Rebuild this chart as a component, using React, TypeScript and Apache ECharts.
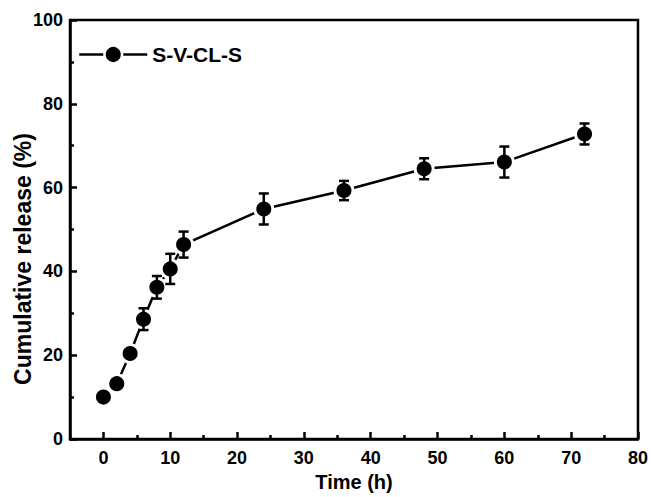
import React, { useEffect, useRef } from "react";
import * as echarts from "echarts";

const seriesName = "S-V-CL-S";
const timeH = [0, 2, 4, 6, 8, 10, 12, 24, 36, 48, 60, 72];
const release = [10.0, 13.2, 20.4, 28.6, 36.2, 40.6, 46.4, 54.9, 59.3, 64.5, 66.1, 72.8];
const errorBar = [0.5, 1.0, 1.0, 2.6, 2.7, 3.6, 3.1, 3.7, 2.3, 2.5, 3.7, 2.5];
const xMajorTicks = [0, 10, 20, 30, 40, 50, 60, 70, 80];
const xMinorTicks = [5, 15, 25, 35, 45, 55, 65, 75];

const FONT = "'Liberation Sans', Arial, sans-serif";

export default function App() {
  const ref = useRef<HTMLDivElement>(null);
  useEffect(() => {
    if (!ref.current) return;
    const chart = echarts.init(ref.current, undefined, { renderer: "svg" });
    const lineData = timeH.map((t, i) => [t, release[i]]);
    const errData = timeH.map((t, i) => [t, release[i], errorBar[i]]);
    const labelStyle = {
      color: "#000",
      fontSize: 18,
      fontWeight: "bold" as const,
      fontFamily: FONT,
    };
    chart.setOption({
      animation: false,
      backgroundColor: "#fff",
      grid: {
        left: 70,
        right: 9,
        top: 20,
        bottom: 53,
        show: true,
        borderColor: "#000",
        borderWidth: 2.5,
        backgroundColor: "transparent",
      },
      legend: {
        data: [seriesName],
        left: 73,
        top: 39,
        itemWidth: 68,
        itemHeight: 22,
        itemGap: 7,
        textStyle: { ...labelStyle, fontSize: 21 },
        itemStyle: { borderColor: "#fff", borderWidth: 2.5 },
        lineStyle: { width: 2.5, color: "#000" },
      },
      xAxis: [
        {
          type: "value",
          min: -5,
          max: 80,
          name: "Time (h)",
          nameLocation: "middle",
          nameGap: 33,
          nameTextStyle: { ...labelStyle, fontSize: 20 },
          axisLine: { show: true, onZero: false, lineStyle: { color: "#000", width: 2.5 } },
          axisTick: {
            show: true,
            inside: true,
            length: 7,
            customValues: xMajorTicks,
            lineStyle: { color: "#000", width: 2.5 },
          },
          axisLabel: { ...labelStyle, margin: 10, customValues: xMajorTicks },
          splitLine: { show: false },
        },
        {
          type: "value",
          min: -5,
          max: 80,
          position: "bottom",
          axisLine: { show: false, onZero: false },
          axisLabel: { show: false },
          axisTick: {
            show: true,
            inside: true,
            length: 4,
            customValues: xMinorTicks,
            lineStyle: { color: "#000", width: 2.5 },
          },
          splitLine: { show: false },
        },
      ],
      yAxis: {
        type: "value",
        min: 0,
        max: 100,
        interval: 20,
        axisLine: { show: true, onZero: false, lineStyle: { color: "#000", width: 2.5 } },
        axisTick: {
          show: true,
          inside: true,
          length: 7,
          lineStyle: { color: "#000", width: 2.5 },
        },
        minorTick: {
          show: true,
          splitNumber: 2,
          length: 4,
          lineStyle: { color: "#000", width: 2.5 },
        },
        axisLabel: { ...labelStyle, margin: 7 },
        splitLine: { show: false },
      },
      graphic: [
        {
          type: "text",
          x: 23,
          y: 259,
          rotation: Math.PI / 2,
          style: {
            text: "Cumulative release (%)",
            fill: "#000",
            font: `bold 23px ${FONT}`,
            textAlign: "center",
            textVerticalAlign: "middle",
          },
        },
      ],
      series: [
        {
          name: seriesName,
          type: "line",
          data: lineData,
          symbol: "circle",
          symbolSize: 18,
          z: 2,
          lineStyle: { color: "#000", width: 2.5 },
          itemStyle: { color: "#000", borderColor: "#fff", borderWidth: 3 },
        },
        {
          name: "error",
          type: "custom",
          data: errData,
          z: 3,
          encode: { x: 0, y: 1 },
          renderItem: (params: any, api: any) => {
            const x = api.value(0);
            const y = api.value(1);
            const e = api.value(2);
            const top = api.coord([x, y + e]);
            const bot = api.coord([x, y - e]);
            const hw = 5;
            const st = { stroke: "#000", lineWidth: 2.5 };
            return {
              type: "group",
              children: [
                { type: "line", shape: { x1: top[0], y1: top[1], x2: bot[0], y2: bot[1] }, style: st },
                { type: "line", shape: { x1: top[0] - hw, y1: top[1], x2: top[0] + hw, y2: top[1] }, style: st },
                { type: "line", shape: { x1: bot[0] - hw, y1: bot[1], x2: bot[0] + hw, y2: bot[1] }, style: st },
              ],
            };
          },
        },
      ],
    });
    return () => chart.dispose();
  }, []);
  return (
    <div
      ref={ref}
      style={{ position: "fixed", left: 0, top: 0, width: 651, height: 497, background: "#fff" }}
    />
  );
}
